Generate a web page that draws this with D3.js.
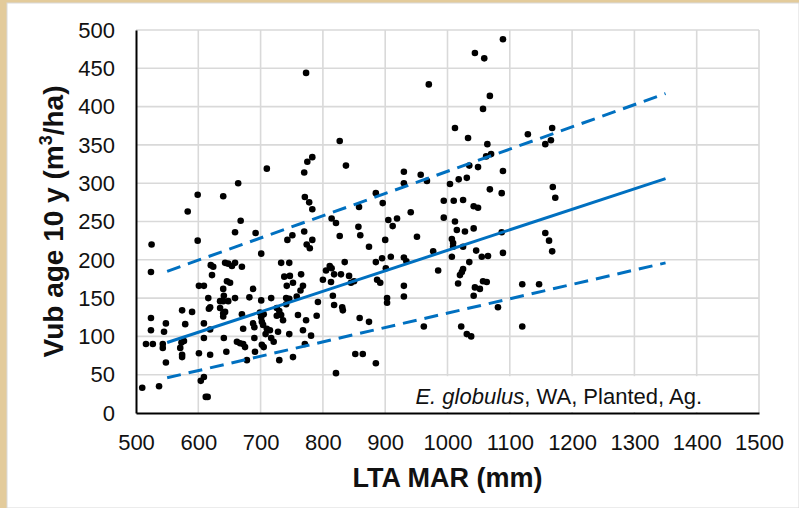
<!DOCTYPE html>
<html>
<head>
<meta charset="utf-8">
<script src="https://cdn.jsdelivr.net/npm/d3@7/dist/d3.min.js"></script>
<style>
  html, body { margin: 0; padding: 0; background: #e3cb9b; }
  svg { display: block; }
</style>
</head>
<body>
<svg id="chart" width="799" height="508"></svg>
<script>
// Mean annual rainfall (mm) and standing volume at age 10 (m3/ha) per plot
const marValues = [
  510,537,524,525,524,524,516,527,545,548,543,543,548,574,590,579,571,574,574,577,573,583,599,599,
  601,609,609,609,601,604,609,612,615,619,619,616,617,619,620,624,622,640,641,635,640,635,640,640,643,
  643,648,659,654,646,651,641,645,659,670,670,662,667,672,675,672,678,682,688,688,690,690,691,640,664,
  668,659,692,648,
  701,710,701,699,701,705,702,704,702,705,710,715,717,721,708,728,717,730,733,746,738,747,752,742,726,
  730,733,736,726,741,746,741,746,752,758,760,765,768,768,773,771,781,792,790,743,751,773,770,775,783,
  771,778,783,770,783,774,779,764,
  800,805,811,814,813,816,818,821,831,832,829,835,842,845,850,859,852,864,874,885,903,903,887,892,885,
  895,909,901,814,821,827,827,837,858,857,860,874,885,896,905,912,919,900,818,
  930,930,962,985,930,934,930,930,957,967,941,951,977,970,994,994,
  1089,1044,1059,1068,1057,1012,1033,1064,1062,1070,1035,1049,1089,1018,1031,1004,1068,1087,1010,1025,
  1042,1049,1012,1015,1028,1042,1087,1007,1009,1009,1025,1046,1055,1065,1089,1007,1022,1031,1038,1017,
  1020,1023,1025,1035,1042,1044,1052,1057,1063,1081,
  1129,1168,1157,1166,1169,1173,1157,1163,1168,1120,1120,1147
];
const volumeValues = [
  33,35,184,220,124,108,90,90,106,117,90,85,66,134,132,116,85,76,73,94,92,263,285,225,
  166,166,117,98,78,42,47,21,21,109,76,150,136,138,193,191,180,162,153,146,146,137,130,126,132,
  196,195,196,192,172,170,98,80,150,191,129,93,91,90,86,110,69,151,162,117,112,98,80,283,300,
  251,236,235,146,
  208,319,147,131,125,129,119,115,89,86,110,108,98,93,103,106,150,69,196,196,178,179,170,166,137,
  133,128,121,127,150,149,142,103,73,152,128,181,166,108,121,90,101,145,127,226,232,444,314,328,334,
  282,275,266,237,226,220,215,160,
  174,186,192,189,171,153,141,52,138,134,181,197,179,170,172,124,77,77,119,65,150,144,174,170,197,
  202,204,189,254,248,231,355,323,269,243,232,217,287,274,252,244,254,226,181,
  166,152,113,186,203,198,315,300,311,303,262,230,211,429,277,255,
  488,470,463,414,397,372,359,351,335,338,323,321,316,305,307,299,292,287,277,278,
  270,268,250,239,237,241,236,227,222,217,217,212,204,205,209,204,113,103,100,169,
  180,184,188,197,153,164,162,172,171,138,
  364,372,351,356,295,281,235,225,211,168,113,168
];

// Fitted relationship and its upper / lower bounds
const fitMar = [550, 1350];
const fitMid = [92, 306];
const fitUpper = [185, 417];
const fitLower = [46, 196];

const xTicks = [500, 600, 700, 800, 900, 1000, 1100, 1200, 1300, 1400, 1500];
const yTicks = [0, 50, 100, 150, 200, 250, 300, 350, 400, 450, 500];

const svg = d3.select("#chart");
const font = "'Liberation Sans', Arial, sans-serif";

// chart surface
svg.append("rect").attr("x", 7).attr("y", 3).attr("width", 792).attr("height", 505)
  .attr("fill", "#ffffff").attr("stroke", "#d9d9d9").attr("stroke-width", 1);

const x = d3.scaleLinear().domain([500, 1500]).range([136, 759]);
const y = d3.scaleLinear().domain([0, 500]).range([413, 30]);

// gridlines
const grid = svg.append("g").attr("stroke", "#d9d9d9").attr("stroke-width", 1.6);
grid.selectAll("line.v").data(xTicks.slice(1)).join("line")
  .attr("x1", d => x(d)).attr("x2", d => x(d)).attr("y1", y(500)).attr("y2", y(0));
grid.selectAll("line.h").data(yTicks.slice(1)).join("line")
  .attr("x1", x(500)).attr("x2", x(1500)).attr("y1", d => y(d)).attr("y2", d => y(d));

// label panel in the lower right
svg.append("rect").attr("x", 390).attr("y", y(50) + 1.5).attr("width", x(1500) - 1.5 - 390)
  .attr("height", y(0) - y(50) - 2.5).attr("fill", "#ffffff");

// axes
const xAxis = d3.axisBottom(x).tickValues(xTicks).tickSize(0).tickPadding(0).tickFormat(d3.format("d"));
const yAxis = d3.axisLeft(y).tickValues(yTicks).tickSize(0).tickPadding(0).tickFormat(d3.format("d"));

const gx = svg.append("g").attr("transform", `translate(0,${y(0)})`).call(xAxis);
gx.select(".domain").attr("stroke", "#000").attr("stroke-width", 2);
gx.selectAll("text").attr("font-family", font).attr("font-size", 22).attr("fill", "#111")
  .attr("y", 37).attr("dy", 0);

const gy = svg.append("g").attr("transform", `translate(${x(500)},0)`).call(yAxis);
gy.select(".domain").attr("stroke", "#000").attr("stroke-width", 2);
gy.selectAll("text").attr("font-family", font).attr("font-size", 22).attr("fill", "#111")
  .attr("x", -21).attr("dy", "0.33em");

// points
const pts = marValues.map((m, i) => ({ m, v: volumeValues[i] }));
svg.append("g").selectAll("circle").data(pts).join("circle")
  .attr("cx", d => x(d.m)).attr("cy", d => y(d.v)).attr("r", 3.3).attr("fill", "#000");

// fitted lines
const line = d3.line().x(d => x(d[0])).y(d => y(d[1]));
const series = [
  { vals: fitUpper, dash: "14,8" },
  { vals: fitLower, dash: "14,8" },
  { vals: fitMid, dash: null }
];
svg.append("g").selectAll("path").data(series).join("path")
  .attr("d", s => line(fitMar.map((m, i) => [m, s.vals[i]])))
  .attr("fill", "none").attr("stroke", "#0070c0").attr("stroke-width", 3)
  .attr("stroke-dasharray", s => s.dash);

// annotation
const note = svg.append("text").attr("x", 702).attr("y", 404).attr("text-anchor", "end")
  .attr("font-family", font).attr("font-size", 22).attr("fill", "#111");
note.append("tspan").attr("font-style", "italic").text("E. globulus");
note.append("tspan").text(", WA, Planted, Ag.");

// axis titles
svg.append("text").attr("x", (x(500) + x(1500)) / 2).attr("y", 487).attr("text-anchor", "middle")
  .attr("font-family", font).attr("font-size", 27).attr("font-weight", "bold").attr("fill", "#111")
  .text("LTA MAR (mm)");

const yt = svg.append("text").attr("transform", `translate(63,${(y(0) + y(500)) / 2}) rotate(-90)`)
  .attr("text-anchor", "middle").attr("font-family", font).attr("font-size", 28)
  .attr("font-weight", "bold").attr("fill", "#111");
yt.append("tspan").text("Vub age 10 y (m");
yt.append("tspan").attr("font-size", 18).attr("dy", -11).text("3");
yt.append("tspan").attr("dy", 11).text("/ha)");
</script>
</body>
</html>
